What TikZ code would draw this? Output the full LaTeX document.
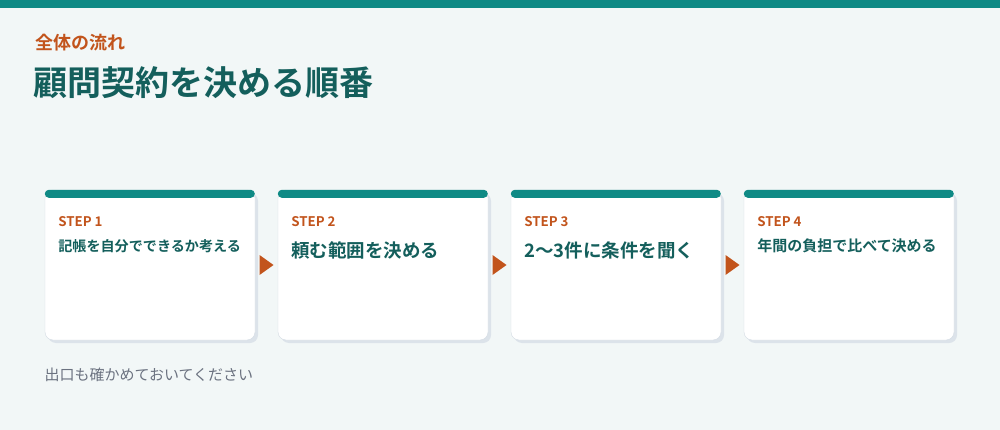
\documentclass[tikz,border=0pt]{standalone}
\usepackage{fontspec}
\setmainfont{Noto Sans CJK JP}[BoldFont={Noto Sans CJK JP Bold}]
\usetikzlibrary{calc}
\definecolor{teal1}{HTML}{0F8A85}
\definecolor{tealdark}{HTML}{145F5C}
\definecolor{rust}{HTML}{C2541C}
\definecolor{pagebg}{HTML}{F2F7F7}
\definecolor{shadowc}{HTML}{DCE3EA}
\definecolor{edgec}{HTML}{D3DBE3}
\definecolor{notec}{HTML}{6B7280}
\begin{document}
\begin{tikzpicture}[x=1pt,y=-1pt,
    card/.style={draw=edgec,fill=white,rounded corners=8pt,minimum width=210pt,minimum height=150pt,inner sep=0pt},
    steplabel/.style={anchor=west,text=rust,font=\bfseries\fontsize{13.3}{15}\selectfont},
    smalltext/.style={anchor=west,text=tealdark,font=\bfseries\fontsize{14.1}{16}\selectfont},
    bigtext/.style={anchor=west,text=tealdark,font=\bfseries\fontsize{18.5}{20}\selectfont}]
        \fill[pagebg] (0,0) rectangle (1000,430);
        \fill[teal1] (0,0) rectangle (1000,8);
        
        \node[anchor=west,text=rust,font=\bfseries\fontsize{18}{20}\selectfont] (kicker) at (32,43) {全体の流れ};
        \node[anchor=west,text=tealdark,font=\bfseries\fontsize{34}{38}\selectfont] (title) at (30,83) {顧問契約を決める順番};
        
        % cards
        \foreach \i/\x in {1/150,2/383,3/616,4/849}{
            \fill[shadowc,rounded corners=8pt] (\x-105+3,190+3) rectangle (\x+105+3,340+3);
            \node[card] (c\i) at (\x,265) {};
            \fill[teal1,rounded corners=4pt] (c\i.north west) rectangle ++(210,8);
            \node[steplabel] (s\i) at ([xshift=10pt,yshift=-32pt]c\i.north west) {STEP \i};
        }
        
        \node[smalltext] (t1) at ([xshift=10pt,yshift=-56pt]c1.north west) {記帳を自分でできるか考える};
        \node[bigtext] (t2) at ([xshift=10pt,yshift=-61pt]c2.north west) {頼む範囲を決める};
        \node[bigtext] (t3) at ([xshift=10pt,yshift=-61pt]c3.north west) {2〜3件に条件を聞く};
        \node[smalltext,font=\bfseries\fontsize{15}{17}\selectfont] (t4) at ([xshift=10pt,yshift=-56pt]c4.north west) {年間の負担で比べて決める};
        
        % arrows
        \foreach \a/\b in {1/2,2/3,3/4}{
            \coordinate (m\a) at ($(c\a.east)!0.5!(c\b.west)$);
            \fill[rust] ([xshift=-7pt,yshift=-10pt]m\a) -- ([xshift=7pt]m\a) -- ([xshift=-7pt,yshift=10pt]m\a) -- cycle;
        }
        
        \node[anchor=west,text=notec,font=\fontsize{15}{17}\selectfont] (note) at (41,375) {出口も確かめておいてください};
\end{tikzpicture}
\end{document}
